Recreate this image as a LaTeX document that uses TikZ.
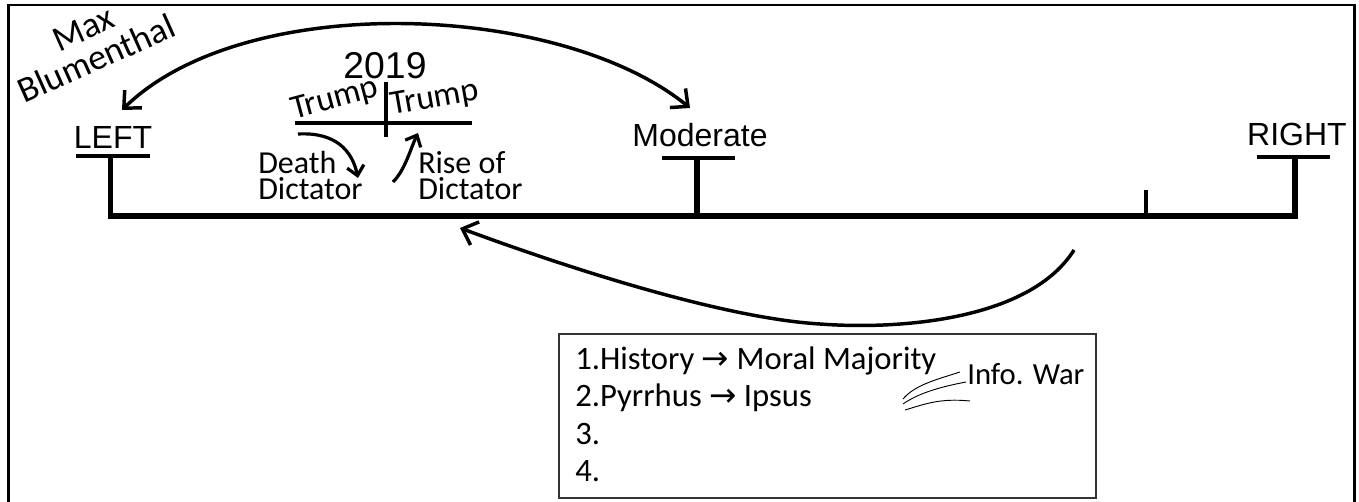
\documentclass[tikz,border=0pt]{standalone}
\usepackage{fontspec}
\setmainfont{Carlito}
\newfontfamily\arialfont{Liberation Sans}
\newfontfamily\symfont{DejaVu Sans}
\usetikzlibrary{arrows.meta}

\tikzstyle{frame} = [draw, line width = 1.8pt]
\tikzstyle{axis} = [draw, line width = 4.2pt, line join = miter]
\tikzstyle{bar} = [draw, line width = 3pt]
\tikzstyle{pole} = [font = \arialfont\fontsize{24}{28}\selectfont, inner sep = 0pt]
\tikzstyle{hand} = [font = \fontsize{24}{27}\selectfont, inner sep = 0pt]
\tikzstyle{item} = [font = \fontsize{24.5}{28}\selectfont, inner sep = 0pt, anchor = base west]
\tikzstyle{swing} = [draw, line width = 2.6pt, >={Straight Barb[length = 3.5mm, width = 6.5mm]}]
\tikzstyle{turn} = [draw, line width = 2.4pt, -{Straight Barb[length = 2.5mm, width = 4.5mm]}]
\tikzstyle{ink} = [draw, line width = 0.7pt]

\begin{document}
\begin{tikzpicture}[x = 0.75pt, y = -0.75pt]
        \useasboundingbox (0,0) rectangle (1359,502);
        \path[frame] (8.5,502) -- (8.5,5) -- (1354.5,5) -- (1354.5,502);

        % the scale
        \node[pole] (left) at (113,137) {LEFT};
        \node[pole] (moderate) at (700,135) {Moderate};
        \node[pole] (right) at (1297,134) {RIGHT};
        \path[axis] (110.5,156) -- (110.5,216) -- (1295,216) -- (1295,156);
        \path[axis] (697,158) -- (697,216);
        \path[bar] (76,156) -- (150,156);
        \path[bar] (662,158) -- (735,158);
        \path[bar] (1257,157) -- (1330,157);
        \path[draw, line width = 3pt] (1146,190) -- (1146,216);

        % 2019 cross
        \node[font = \arialfont\fontsize{28}{32}\selectfont, inner sep = 0pt] (year) at (385,66) {2019};
        \path[bar] (295,123) -- (472,123);
        \path[bar] (386,82) -- (386,137);
        \node[hand, font = \fontsize{25.5}{30}\selectfont, rotate = 15] (trumpa) at (335,100) {Trump};
        \node[hand, font = \fontsize{25.5}{30}\selectfont, rotate = 10] (trumpb) at (435,99) {Trump};
        \node[hand, anchor = west] (death) at (258,163) {Death};
        \node[hand, anchor = west] (dictatora) at (258,189) {Dictator};
        \node[hand, anchor = west] (rise) at (418,163) {Rise of};
        \node[hand, anchor = west] (dictatorb) at (418,189) {Dictator};
        \path[turn] (298,134) .. controls (335,132) and (352,150) .. (358,178);
        \path[turn] (393,182) .. controls (405,170) and (410,150) .. (418,133);

        \node[hand, font = \fontsize{27}{24.5}\selectfont, rotate = 24, align = center] (max) at (90,44) {Max\\Blumenthal};

        % swings
        \coordinate (lefttip) at (122,110);
        \coordinate (modtip) at (690,108);
        \path[swing, <->] (lefttip) .. controls (245,-10) and (560,2) .. (modtip);
        \coordinate (swingstart) at (1074,250);
        \coordinate (swingtip) at (460,228);
        \path[swing, ->] (swingstart) .. controls (1030,320) and (900,330) .. (820,324)
            .. controls (720,318) and (560,265) .. (swingtip);

        % list box
        \path[draw, line width = 0.9pt, black!80] (559,334) rectangle (1096,498);
        \node[item] (item1) at (575,369) {1.History {\symfont →} Moral Majority};
        \node[item] (item2) at (575,406) {2.Pyrrhus {\symfont →} Ipsus};
        \node[item] (item3) at (575,444) {3.};
        \node[item] (item4) at (575,481) {4.};
        \node[item, font = \fontsize{23}{27}\selectfont] (info) at (967,384) {Info. War};
        \path[ink] (903,399) .. controls (915,385) and (935,380) .. (960,372);
        \path[ink] (903,404) .. controls (920,392) and (945,386) .. (966,382);
        \path[ink] (905,410) .. controls (925,404) and (940,398) .. (970,401);
    \end{tikzpicture}
\end{document}
